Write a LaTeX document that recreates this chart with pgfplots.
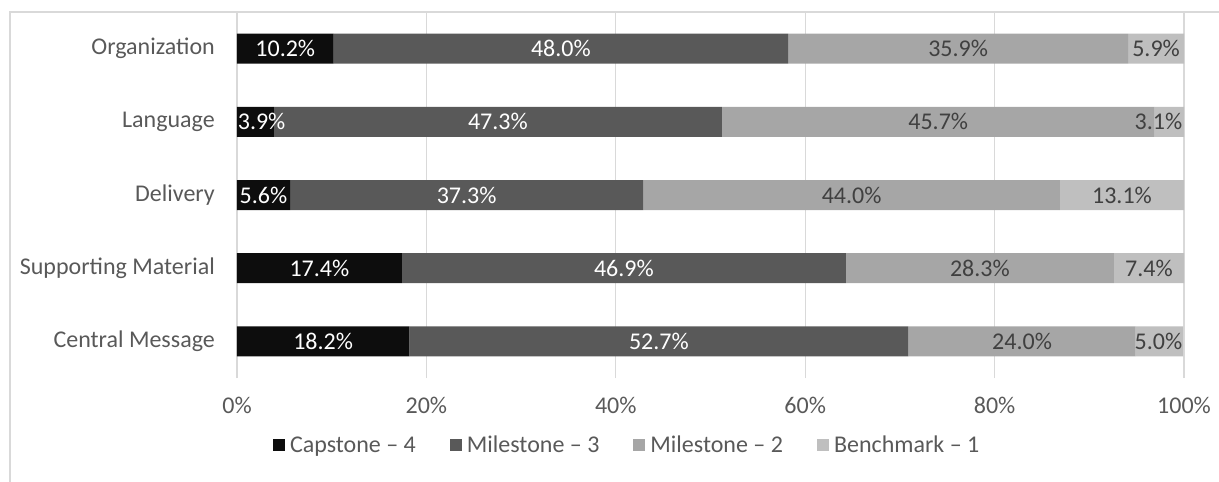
\documentclass[border=0pt]{standalone}
\usepackage{pgfplots}
\pgfplotsset{compat=1.18}
\usepackage{pgfplotstable}
\usepackage{fontspec}
\setmainfont{Carlito}
\definecolor{cA}{HTML}{0D0D0D}
\definecolor{cB}{HTML}{595959}
\definecolor{cC}{HTML}{A6A6A6}
\definecolor{cD}{HTML}{BFBFBF}
\definecolor{txt}{HTML}{595959}
\definecolor{lbl}{HTML}{404040}
\definecolor{gridc}{HTML}{D9D9D9}
\pgfplotstableread{
y c4 c3 c2 b1
0 18.2 52.7 24.0 5.0
1 17.4 46.9 28.3 7.4
2 5.6 37.3 44.0 13.1
3 3.9 47.3 45.7 3.1
4 10.2 48.0 35.9 5.9
}\data
\pgfplotsset{
  /pgf/number format/assume math mode=true,
  base/.style={
    width=947pt, height=366pt, scale only axis,
    at={(237pt,-12pt)}, anchor=north west,
    xmin=0, xmax=100, ymin=-0.5, ymax=4.5,
  },
  lab/.style={
    draw=none, mark=none, point meta=explicit,
    nodes near coords={\pgfmathprintnumber[fixed,fixed zerofill,precision=1]{\pgfplotspointmeta}\%},
    every node near coord/.style={anchor=center, text=#1, inner sep=0pt},
  },
}
\begin{document}
\begin{tikzpicture}[x=1pt,y=1pt,font=\fontsize{24}{28}\selectfont]
\useasboundingbox (0,0) rectangle (1219,-482);
\draw[gridc, line width=1.5pt] (10,-482) -- (10,-12) -- (1219,-12);
\begin{axis}[base,
  xbar stacked, bar width=30pt,
  axis line style={draw=none},
  major tick length=0pt,
  xmajorgrids, grid style={gridc, line width=1.2pt},
  xtick={0,20,...,100},
  xticklabel={\pgfmathprintnumber{\tick}\%},
  ytick={0,1,2,3,4},
  yticklabels={Central Message, Supporting Material, Delivery, Language, Organization},
  tick label style={text=txt, inner sep=0pt},
  xticklabel style={yshift=-19pt},
  yticklabel style={xshift=-22pt},
  legend columns=4,
  legend style={at={(0.412,-0.183)}, anchor=center, draw=none, fill=none,
    nodes={inner sep=2pt, text=txt},
    /tikz/every odd column/.append style={column sep=3pt},
    /tikz/every even column/.append style={column sep=32pt}},
  legend image code/.code={\fill[#1] (0pt,-6pt) rectangle (12pt,6pt);},
]
\addplot[fill=cA, draw=none] table[x=c4, y=y] {\data};
\addplot[fill=cB, draw=none] table[x=c3, y=y] {\data};
\addplot[fill=cC, draw=none] table[x=c2, y=y] {\data};
\addplot[fill=cD, draw=none] table[x=b1, y=y] {\data};
\legend{Capstone – 4, Milestone – 3, Milestone – 2, Benchmark – 1}
\end{axis}
\begin{axis}[base, hide axis]
\addplot[lab=white] table[x expr={max(\thisrow{c4}/2,2.6)}, y=y, meta=c4] {\data};
\addplot[lab=white] table[x expr=\thisrow{c4}+\thisrow{c3}/2, y=y, meta=c3] {\data};
\addplot[lab=lbl] table[x expr=\thisrow{c4}+\thisrow{c3}+\thisrow{c2}/2, y=y, meta=c2] {\data};
\addplot[lab=lbl] table[x expr={min(\thisrow{c4}+\thisrow{c3}+\thisrow{c2}+\thisrow{b1}/2,97.3)}, y=y, meta=b1] {\data};
\end{axis}
\end{tikzpicture}
\end{document}
